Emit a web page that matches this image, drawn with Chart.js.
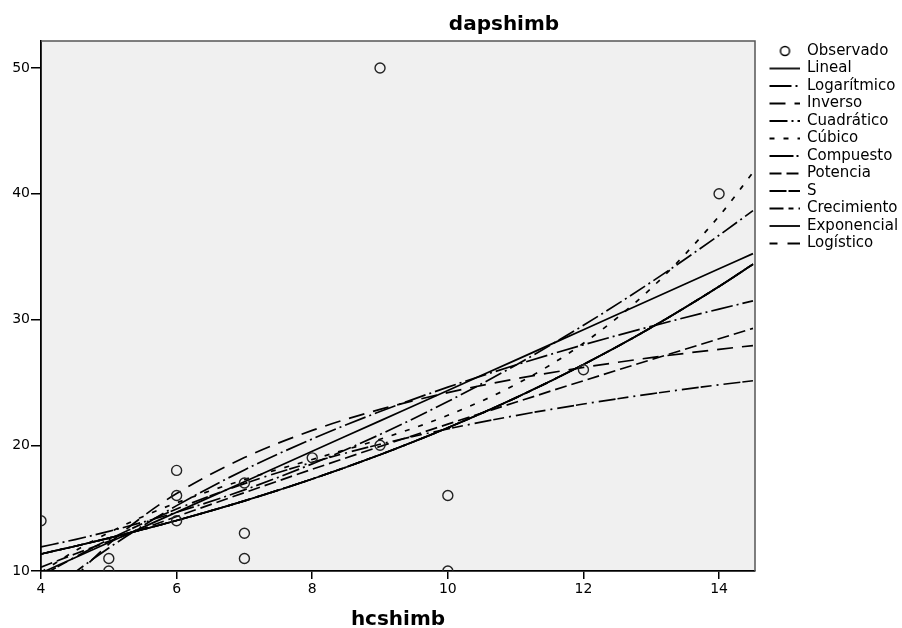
<!DOCTYPE html>
<html>
<head>
<meta charset="utf-8">
<title>dapshimb</title>
<script src="https://cdn.jsdelivr.net/npm/chart.js@4.4.1/dist/chart.umd.min.js"></script>
<style>
  body { margin: 0; background: #fff; }
  #wrap { position: relative; width: 902px; height: 628px; }
  #myChart { display: block; }
  #title {
    position: absolute; left: 404px; width: 200px; top: 11px;
    text-align: center; color: #000;
    font: bold 20px "DejaVu Sans", sans-serif; line-height: 24px;
  }
</style>
</head>
<body>
<div id="wrap">
  <canvas id="myChart" width="902" height="628"></canvas>
  <div id="title">dapshimb</div>
</div>
<script>
// observed points
const hcshimb = [4, 5, 5, 6, 6, 6, 7, 7, 7, 8, 9, 9, 10, 10, 12, 14];
const dapshimb = [14, 11, 10, 18, 16, 14, 17, 13, 11, 19, 50, 20, 16, 10, 26, 40];

// fitted curves, read at these x positions
const curveX = [4, 4.5, 5, 5.5, 6, 7, 8, 9, 10, 11, 12, 13, 14, 14.5];
const lineal = [9.84, 11.05, 12.26, 13.47, 14.68, 17.10, 19.52, 21.94, 24.36, 26.77, 29.19, 31.61, 34.03, 35.24];
const logaritmico = [7.72, 9.89, 11.83, 13.59, 15.20, 18.04, 20.50, 22.68, 24.62, 26.38, 27.99, 29.46, 30.83, 31.48];
const inverso = [6.12, 9.46, 12.14, 14.33, 16.16, 19.02, 21.18, 22.85, 24.19, 25.28, 26.19, 26.97, 27.63, 27.93];
const cuadratico = [11.92, 12.50, 13.15, 13.88, 14.67, 16.45, 18.52, 20.86, 23.48, 26.37, 29.54, 32.98, 36.70, 38.66];
const cubico = [9.90, 11.59, 13.05, 14.32, 15.42, 17.27, 18.87, 20.48, 22.38, 24.83, 28.11, 32.49, 38.22, 41.69];
const compuesto = [11.35, 11.97, 12.62, 13.30, 14.02, 15.58, 17.32, 19.25, 21.39, 23.77, 26.42, 29.36, 32.63, 34.40];
const potencia = [10.31, 11.35, 12.36, 13.35, 14.33, 16.23, 18.09, 19.90, 21.68, 23.42, 25.13, 26.81, 28.47, 29.30];
const curvaS = [9.58, 11.10, 12.50, 13.77, 14.93, 16.95, 18.64, 20.08, 21.30, 22.36, 23.28, 24.09, 24.81, 25.13];
// crecimiento, exponencial and logistico give the same curve as compuesto
const crecimiento = compuesto;
const exponencial = compuesto;
const logistico = compuesto;

const xTicks = [4, 6, 8, 10, 12, 14];
const yTicks = [10, 20, 30, 40, 50];

const toPoints = (ys) => curveX.map((x, i) => ({ x: x, y: ys[i] }));

const curves = [
  { label: "Lineal", data: lineal, dash: [] },
  { label: "Logarítmico", data: logaritmico, dash: [22, 4, 2, 4] },
  { label: "Inverso", data: inverso, dash: [16, 9] },
  { label: "Cuadrático", data: cuadratico, dash: [18, 4, 2, 4] },
  { label: "Cúbico", data: cubico, dash: [5, 9] },
  { label: "Compuesto", data: compuesto, dash: [24, 3, 2, 3] },
  { label: "Potencia", data: potencia, dash: [12, 5] },
  { label: "S", data: curvaS, dash: [17, 2, 11, 5, 2, 5] },
  { label: "Crecimiento", data: crecimiento, dash: [14, 5, 5, 5] },
  { label: "Exponencial", data: exponencial, dash: [] },
  { label: "Logístico", data: logistico, dash: [8, 10, 12, 4] },
];

// little pictures for the legend, same style as the lines
const legendSample = (ds) => {
  const c = document.createElement("canvas");
  c.width = 42;
  c.height = 12;
  const g = c.getContext("2d");
  g.strokeStyle = "#000";
  if (ds.type === "line") {
    g.lineWidth = 1.8;
    g.setLineDash(ds.borderDash || []);
    g.beginPath();
    g.moveTo(12, 6);
    g.lineTo(42, 6);
    g.stroke();
  } else {
    g.lineWidth = 1.5;
    g.beginPath();
    g.arc(27.5, 6, 4.5, 0, Math.PI * 2);
    g.stroke();
  }
  return c;
};

const plotFrame = {
  id: "plotFrame",
  afterInit(chart) {
    // keep the legend column at a fixed width so the plot ends at x=755
    const legend = chart.legend;
    const fit = legend.fit;
    legend.fit = function () {
      fit.call(this);
      this.width = 147;
    };
  },
  beforeDraw(chart) {
    const { ctx, chartArea: a } = chart;
    ctx.save();
    ctx.fillStyle = "#f0f0f0";
    ctx.fillRect(a.left, a.top, a.right - a.left, a.bottom - a.top);
    ctx.restore();
  },
  afterDraw(chart) {
    const { ctx, chartArea: a } = chart;
    ctx.save();
    ctx.strokeStyle = "#555";
    ctx.lineWidth = 1.5;
    ctx.beginPath();
    ctx.moveTo(a.left, a.top);
    ctx.lineTo(a.right, a.top);
    ctx.lineTo(a.right, a.bottom);
    ctx.stroke();
    ctx.restore();
  },
};

Chart.defaults.font.family = '"DejaVu Sans", sans-serif';
Chart.defaults.color = "#000";

const ctx = document.getElementById("myChart");

new Chart(ctx, {
  type: "scatter",
  data: {
    datasets: [
      {
        type: "scatter",
        label: "Observado",
        data: hcshimb.map((x, i) => ({ x: x, y: dapshimb[i] })),
        pointRadius: 5,
        pointBorderWidth: 1.4,
        pointBorderColor: "#222",
        pointBackgroundColor: "rgba(0,0,0,0)",
        clip: 0,
      },
      ...curves.map((c) => ({
        type: "line",
        label: c.label,
        data: toPoints(c.data),
        showLine: true,
        borderColor: "#000",
        borderWidth: 1.7,
        borderDash: c.dash,
        pointRadius: 0,
        fill: false,
        cubicInterpolationMode: "monotone",
        clip: 0,
      })),
    ],
  },
  options: {
    responsive: false,
    animation: false,
    layout: { padding: { top: 41, right: 0, bottom: 0, left: 0 } },
    plugins: {
      tooltip: { enabled: false },
      legend: {
        position: "right",
        align: "start",
        labels: {
          usePointStyle: true,
          pointStyleWidth: 42,
          padding: 2.5,
          color: "#000",
          font: { size: 15 },
          generateLabels: (chart) => {
            const items = Chart.defaults.plugins.legend.labels.generateLabels(chart);
            items.forEach((item) => {
              item.pointStyle = legendSample(chart.data.datasets[item.datasetIndex]);
            });
            return items;
          },
        },
      },
    },
    scales: {
      x: {
        type: "linear",
        min: 4,
        max: 14.53,
        afterFit: (scale) => { scale.height = 57; },
        afterBuildTicks: (scale) => { scale.ticks = xTicks.map((v) => ({ value: v })); },
        ticks: { stepSize: 2, includeBounds: false, padding: 2, font: { size: 14 } },
        grid: { drawOnChartArea: false, color: "#000", tickLength: 8, lineWidth: 1.5 },
        border: { color: "#000", width: 1.8 },
        title: {
          display: true,
          text: "hcshimb",
          font: { size: 20, weight: "bold", lineHeight: 0.8 },
          padding: { top: 0, bottom: 0 },
        },
      },
      y: {
        type: "linear",
        min: 10,
        max: 52.15,
        afterFit: (scale) => { scale.width = 41; },
        afterBuildTicks: (scale) => { scale.ticks = yTicks.map((v) => ({ value: v })); },
        ticks: { stepSize: 10, includeBounds: false, padding: 1, font: { size: 14 } },
        grid: { drawOnChartArea: false, color: "#000", tickLength: 10, lineWidth: 1.5 },
        border: { color: "#000", width: 1.8 },
      },
    },
  },
  plugins: [plotFrame],
});
</script>
</body>
</html>
